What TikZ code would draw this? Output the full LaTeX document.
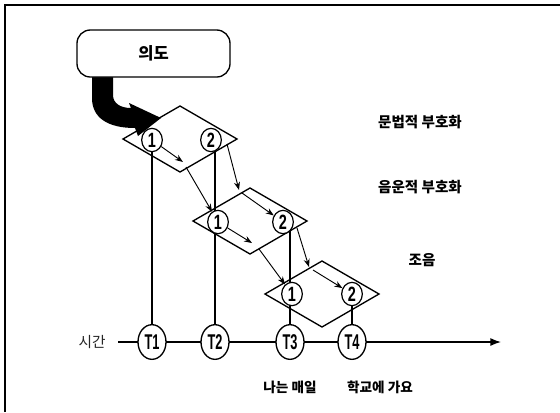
\documentclass[tikz,border=0pt]{standalone}
\usepackage{fontspec}
\usepackage{graphicx}
\setmainfont{Liberation Sans}
\newfontfamily\kr{Noto Sans CJK KR}
\usetikzlibrary{shapes.geometric,arrows.meta}
\pgfdeclarelayer{bg}
\pgfsetlayers{bg,main}
\begin{document}
\begin{tikzpicture}[x=0.75pt,y=-0.75pt,
  frame/.style={line width=1.2pt},
  diam/.style={line width=1pt, line join=miter},
  numc/.style={ellipse, draw, line width=0.9pt, fill=white, minimum width=15.5pt, minimum height=17.5pt, inner sep=0pt, font=\bfseries\fontsize{15.5}{15}\selectfont},
  tnode/.style={ellipse, draw, line width=1pt, fill=white, minimum width=21pt, minimum height=26pt, inner sep=0pt, font=\bfseries\fontsize{16}{16}\selectfont},
  lab/.style={font=\kr\bfseries\fontsize{10.9}{12}\selectfont},
  blab/.style={font=\kr\bfseries\fontsize{10.2}{12}\selectfont},
  small/.style={-{Stealth[length=6pt,width=4.5pt]}, line width=0.7pt},
  vline/.style={line width=1pt},
  intent/.style={draw, line width=1pt, rounded corners=10pt, minimum width=114.75pt, minimum height=35.25pt, fill=white, font=\kr\bfseries\fontsize{12.4}{14}\selectfont}
]
\useasboundingbox (0,0) rectangle (560,412);
\begin{pgfonlayer}{bg}
  \fill[white] (0,0) rectangle (560,412);
\end{pgfonlayer}
\draw[frame] (5,412) -- (5,5) -- (560,5);

% big black arrow
\fill[black] (92,76) -- (92,98) .. controls (92,118) and (108,128) .. (135,128)
  -- (138,136) -- (161,118) -- (129,103) -- (131,108)
  .. controls (120,108) and (113,103) .. (113,95) -- (113,76) -- cycle;
\node[intent] (int) at (153.5,53.5) {의도};

% diamonds
\coordinate (D1) at (180,139);
\coordinate (D2) at (250,221);
\coordinate (D3) at (322,294);
\foreach \d in {D1,D2,D3}
  \draw[diam] (\d) ++(-57,0) -- ++(57,-33) -- ++(57,33) -- ++(-57,33) -- cycle;

% circled numbers
\node[numc] (D1c1) at (152,140) {\scalebox{0.7}[1]{1}};
\node[numc] (D1c2) at (211,140) {\scalebox{0.7}[1]{2}};
\node[numc] (D2c1) at (218,222) {\scalebox{0.7}[1]{1}};
\node[numc] (D2c2) at (283,222) {\scalebox{0.7}[1]{2}};
\node[numc] (D3c1) at (292,294) {\scalebox{0.7}[1]{1}};
\node[numc] (D3c2) at (352,294) {\scalebox{0.7}[1]{2}};

% time nodes
\node[tnode] (T1) at (152,342) {\scalebox{0.6}[1]{T1}};
\node[tnode] (T2) at (215,342) {\scalebox{0.6}[1]{T2}};
\node[tnode] (T3) at (290,342) {\scalebox{0.6}[1]{T3}};
\node[tnode] (T4) at (352,342) {\scalebox{0.6}[1]{T4}};
\coordinate (ax0) at (118,342);
\coordinate (ax1) at (501,342);
\node[font=\kr\fontsize{11}{12}\selectfont, text=black!85] (time) at (92,342) {시간};

\begin{pgfonlayer}{bg}
  \draw[vline] (D1c1) -- (T1);
  \draw[vline] (D1c2 -| T2) -- (T2);
  \draw[vline] (D2c2 -| T3) -- (T3);
  \draw[vline] (D3c2) -- (T4);
  \draw[vline, -{Latex[length=8pt,width=6pt]}] (ax0) -- (ax1);
\end{pgfonlayer}

% small arrows
\coordinate (a1e) at (183,162);
\coordinate (b1s) at (186,167);
\coordinate (c1s) at (227,144);
\coordinate (c1e) at (239,190);
\coordinate (d1s) at (242,193);
\coordinate (a2e) at (252,243);
\coordinate (b2s) at (259,249);
\coordinate (c2s) at (297,228);
\coordinate (c2e) at (309,267);
\coordinate (d2s) at (313,270);
\draw[small] (D1c1) -- (a1e);
\draw[small] (b1s) -- (D2c1);
\draw[small] (c1s) -- (c1e);
\draw[small] (d1s) -- (D2c2);
\draw[small] (D2c1) -- (a2e);
\draw[small] (b2s) -- (D3c1);
\draw[small] (c2s) -- (c2e);
\draw[small] (d2s) -- (D3c2);

% labels
\node[lab] (l1) at (420,122) {문법적 부호화};
\node[lab] (l2) at (420,187) {음운적 부호화};
\node[lab] (l3) at (422,260) {조음};
\node[blab] (w1) at (290,387) {나는 매일};
\node[blab] (w2) at (380,387) {학교에 가요};
\end{tikzpicture}
\end{document}
